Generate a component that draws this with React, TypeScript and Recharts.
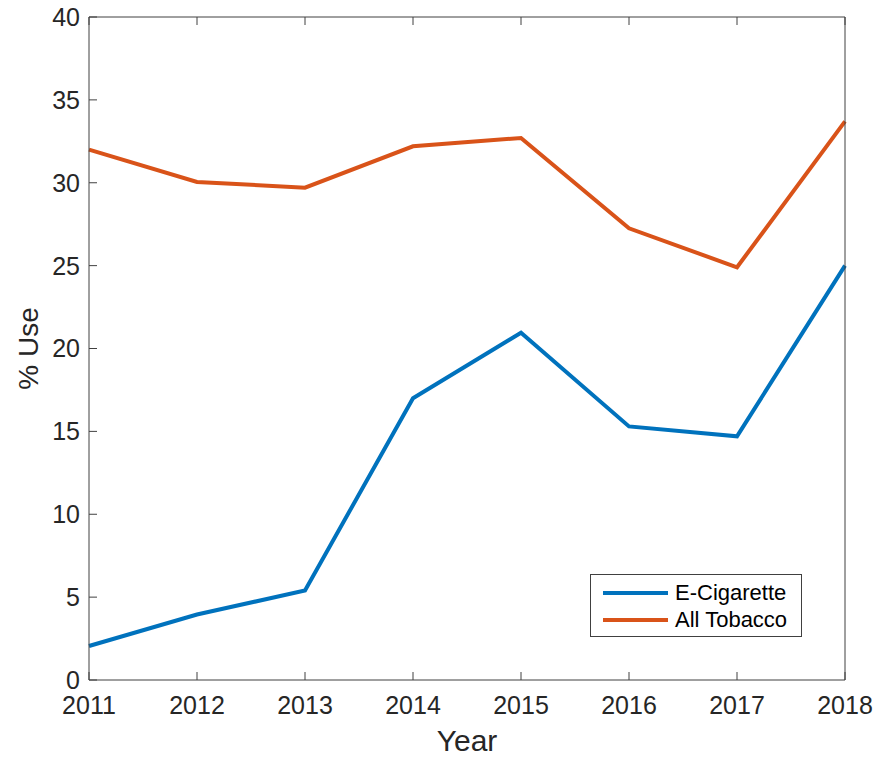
import React from 'react';
import { LineChart, Line, XAxis, YAxis, Legend } from 'recharts';

const years = [2011, 2012, 2013, 2014, 2015, 2016, 2017, 2018];
const eCigarette = [2.05, 3.95, 5.4, 17.0, 20.95, 15.3, 14.7, 25.0];
const allTobacco = [32.0, 30.05, 29.7, 32.2, 32.7, 27.25, 24.9, 33.7];
const yTicks = [0, 5, 10, 15, 20, 25, 30, 35, 40];

const data = years.map((year, i) => ({
  year,
  ecig: eCigarette[i],
  tobacco: allTobacco[i],
}));

const FONT = '"Liberation Sans", Arial, Helvetica, sans-serif';
const TEXT = '#262626';
const AXIS = '#404040';
const BLUE = '#0072BD';
const ORANGE = '#D95319';

const LegendBox = () => (
  <div
    style={{
      border: `1px solid ${AXIS}`,
      background: '#fff',
      width: 212,
      height: 63,
      boxSizing: 'border-box',
      paddingTop: 4,
      fontFamily: FONT,
      fontSize: 22,
      color: '#000',
    }}
  >
    {[
      { name: 'E-Cigarette', color: BLUE },
      { name: 'All Tobacco', color: ORANGE },
    ].map((item) => (
      <div key={item.name} style={{ display: 'flex', alignItems: 'center', height: 27 }}>
        <div style={{ width: 65, height: 4, background: item.color, marginLeft: 12, marginRight: 7 }} />
        <span>{item.name}</span>
      </div>
    ))}
  </div>
);

export default function App() {
  return (
    <div style={{ position: 'absolute', left: 0, top: 0, background: '#fff' }}>
      <LineChart
        width={881}
        height={760}
        data={data}
        margin={{ top: 16, right: 35, bottom: 0, left: 9 }}
        style={{ fontFamily: FONT }}
      >
        <XAxis
          dataKey="year"
          type="number"
          domain={[2011, 2018]}
          ticks={years}
          height={80}
          tickSize={-8}
          tickMargin={24}
          stroke={AXIS}
          tick={{ fill: TEXT, fontSize: 25 }}
          label={{ value: 'Year', position: 'insideBottom', offset: 9, fill: TEXT, fontSize: 30 }}
        />
        <XAxis
          xAxisId="top"
          orientation="top"
          dataKey="year"
          type="number"
          domain={[2011, 2018]}
          ticks={years}
          height={1}
          tickSize={-8}
          tickFormatter={() => ''}
          stroke={AXIS}
        />
        <YAxis
          domain={[0, 40]}
          ticks={yTicks}
          width={80}
          tickSize={-8}
          tickMargin={17}
          stroke={AXIS}
          tick={{ fill: TEXT, fontSize: 25 }}
          label={{
            value: '% Use',
            angle: -90,
            position: 'center',
            fill: TEXT,
            fontSize: 28,
            dx: -21,
          }}
        />
        <YAxis
          yAxisId="right"
          orientation="right"
          domain={[0, 40]}
          ticks={yTicks}
          width={1}
          tickSize={-8}
          tickFormatter={() => ''}
          stroke={AXIS}
        />
        <Legend
          content={<LegendBox />}
          verticalAlign="middle"
          align="center"
          layout="horizontal"
          wrapperStyle={{ position: 'absolute', left: 590, top: 574, width: 'auto' }}
        />
        <Line
          dataKey="ecig"
          name="E-Cigarette"
          stroke={BLUE}
          strokeWidth={4}
          dot={false}
          isAnimationActive={false}
        />
        <Line
          dataKey="tobacco"
          name="All Tobacco"
          stroke={ORANGE}
          strokeWidth={4}
          dot={false}
          isAnimationActive={false}
        />
      </LineChart>
    </div>
  );
}
